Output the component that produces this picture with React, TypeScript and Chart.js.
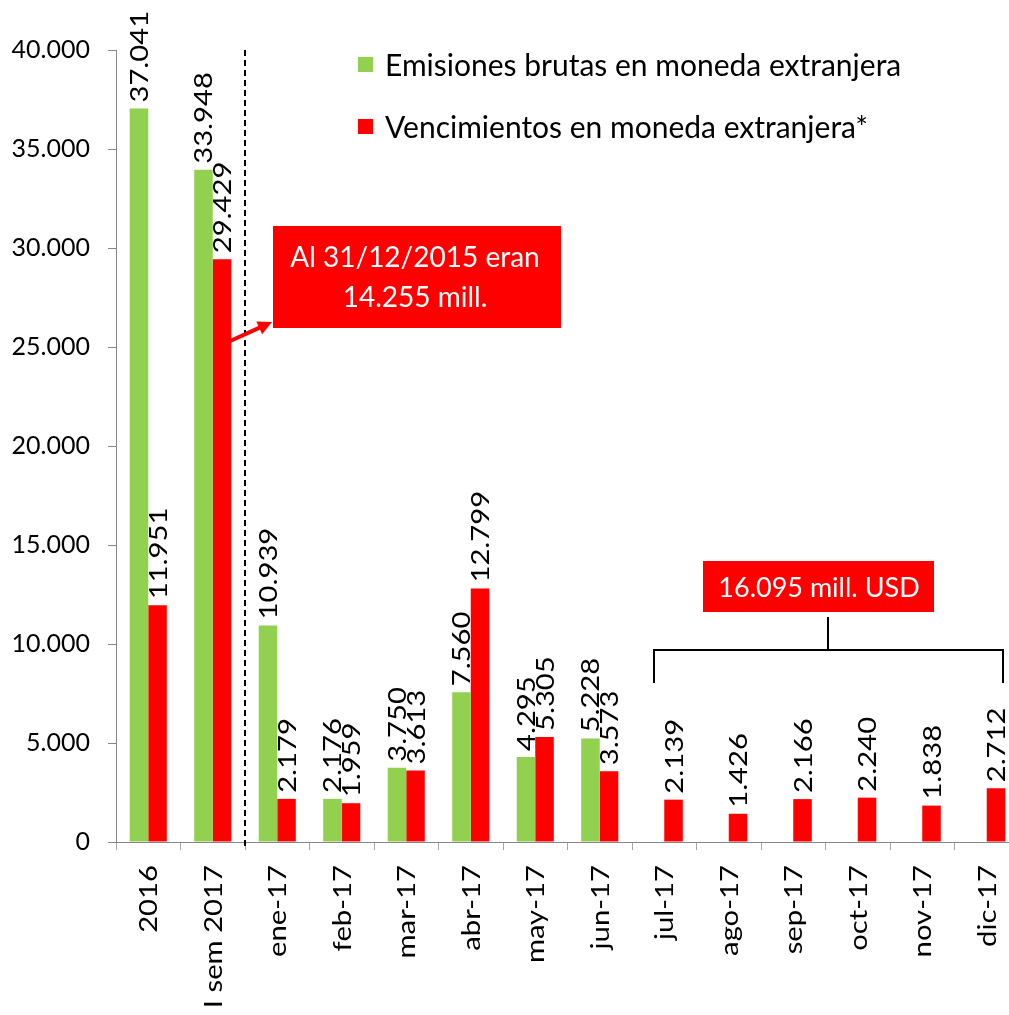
import React, { useEffect, useRef } from "react";
import { Chart, registerables } from "chart.js";

Chart.register(...registerables);

const categories = ["2016", "I sem 2017", "ene-17", "feb-17", "mar-17", "abr-17", "may-17", "jun-17", "jul-17", "ago-17", "sep-17", "oct-17", "nov-17", "dic-17"];
const emisiones: (number | null)[] = [37041, 33948, 10939, 2176, 3750, 7560, 4295, 5228, null, null, null, null, null, null];
const vencimientos: (number | null)[] = [11951, 29429, 2179, 1959, 3613, 12799, 5305, 3573, 2139, 1426, 2166, 2240, 1838, 2712];
const seriesNames = ["Emisiones brutas en moneda extranjera", "Vencimientos en moneda extranjera*"];
const seriesColors = ["#92D050", "#FF0000"];
const yMin = 0;
const yMax = 40000;
const yStep = 5000;
const note1 = ["Al 31/12/2015 eran", "14.255 mill."];
const note2 = "16.095 mill. USD";

const FONT = "Lato, 'Open Sans', sans-serif";
const STRETCH = 1.17;

function fmt(n: number): string {
  return String(n).replace(/\B(?=(\d{3})+(?!\d))/g, ".");
}

function drawRotated(ctx: CanvasRenderingContext2D, text: string, x: number, y: number, size: number, align: CanvasTextAlign) {
  ctx.save();
  ctx.translate(x, y);
  ctx.rotate(-Math.PI / 2);
  ctx.scale(STRETCH, 1);
  ctx.font = `${size}px ${FONT}`;
  ctx.textAlign = align;
  ctx.textBaseline = "alphabetic";
  ctx.fillStyle = "#000";
  ctx.fillText(text, 0, size * 0.36);
  ctx.restore();
}

const overlay = {
  id: "overlay",
  afterDatasetsDraw(chart: any) {
    const ctx: CanvasRenderingContext2D = chart.ctx;
    const xs = chart.scales.x;
    const area = chart.chartArea;

    // data labels
    chart.data.datasets.forEach((ds: any, di: number) => {
      const meta = chart.getDatasetMeta(di);
      meta.data.forEach((bar: any, i: number) => {
        const v = ds.data[i];
        if (v === null || v === undefined) return;
        drawRotated(ctx, fmt(v), bar.x, bar.y - 6, 25, "left");
      });
    });

    // x labels
    categories.forEach((c, i) => {
      const x = xs.getPixelForValue(i);
      drawRotated(ctx, c, x, area.bottom + 23, 25, "right");
    });

    // dashed separator
    const sepX = (xs.getPixelForValue(1) + xs.getPixelForValue(2)) / 2;
    ctx.save();
    ctx.strokeStyle = "#000";
    ctx.lineWidth = 2;
    ctx.setLineDash([6, 4]);
    ctx.beginPath();
    ctx.moveTo(sepX, area.top);
    ctx.lineTo(sepX, area.bottom + 8);
    ctx.stroke();
    ctx.restore();

    // legend
    ctx.save();
    ctx.font = `30px ${FONT}`;
    ctx.textBaseline = "middle";
    ctx.textAlign = "left";
    const legY = [65, 127];
    seriesNames.forEach((n, i) => {
      ctx.fillStyle = seriesColors[i];
      ctx.fillRect(358, legY[i] - 8, 15, 15);
      ctx.fillStyle = "#000";
      ctx.fillText(n, 385, legY[i] + 1);
    });
    ctx.restore();

    // annotation 1
    ctx.save();
    ctx.fillStyle = "#FF0000";
    ctx.fillRect(273, 226, 288, 102);
    ctx.fillStyle = "#fff";
    ctx.font = `28px ${FONT}`;
    ctx.textAlign = "center";
    ctx.textBaseline = "middle";
    ctx.fillText(note1[0], 415, 258);
    ctx.fillText(note1[1], 415, 298);
    // arrow
    const ax0 = 228, ay0 = 342, ax1 = 272, ay1 = 322;
    const ang = Math.atan2(ay1 - ay0, ax1 - ax0);
    ctx.strokeStyle = "#FF0000";
    ctx.lineWidth = 4;
    ctx.beginPath();
    ctx.moveTo(ax0, ay0);
    ctx.lineTo(ax1 - 10 * Math.cos(ang), ay1 - 10 * Math.sin(ang));
    ctx.stroke();
    ctx.beginPath();
    ctx.moveTo(ax1, ay1);
    ctx.lineTo(ax1 - 14 * Math.cos(ang) + 7 * Math.sin(ang), ay1 - 14 * Math.sin(ang) - 7 * Math.cos(ang));
    ctx.lineTo(ax1 - 14 * Math.cos(ang) - 7 * Math.sin(ang), ay1 - 14 * Math.sin(ang) + 7 * Math.cos(ang));
    ctx.closePath();
    ctx.fillStyle = "#FF0000";
    ctx.fill();
    ctx.restore();

    // annotation 2 + bracket
    ctx.save();
    ctx.fillStyle = "#FF0000";
    ctx.fillRect(703, 561, 231, 51);
    ctx.fillStyle = "#fff";
    ctx.font = `27px ${FONT}`;
    ctx.textAlign = "center";
    ctx.textBaseline = "middle";
    ctx.fillText(note2, 819, 588);
    ctx.strokeStyle = "#000";
    ctx.lineWidth = 2;
    ctx.beginPath();
    ctx.moveTo(828, 617);
    ctx.lineTo(828, 650);
    ctx.moveTo(654, 683);
    ctx.lineTo(654, 650);
    ctx.lineTo(1003, 650);
    ctx.lineTo(1003, 683);
    ctx.stroke();
    ctx.restore();
  },
};

export default function App() {
  const ref = useRef<HTMLCanvasElement | null>(null);
  useEffect(() => {
    if (!ref.current) return;
    const chart = new Chart(ref.current, {
      type: "bar",
      data: {
        labels: categories,
        datasets: [
          { label: seriesNames[0], data: emisiones, backgroundColor: seriesColors[0], categoryPercentage: 0.575, barPercentage: 1 },
          { label: seriesNames[1], data: vencimientos, backgroundColor: seriesColors[1], categoryPercentage: 0.575, barPercentage: 1 },
        ],
      },
      options: {
        animation: false,
        responsive: false,
        devicePixelRatio: 1,
        layout: { padding: { top: 50, left: 0, right: 0, bottom: 0 } },
        plugins: { legend: { display: false }, tooltip: { enabled: false } },
        scales: {
          x: {
            offset: true,
            afterFit: (s: any) => { s.height = 173; },
            grid: { display: true, offset: true, drawOnChartArea: false, drawTicks: true, tickLength: 8, color: "#a6a6a6" },
            border: { color: "#868686", width: 1 },
            ticks: { display: false },
          },
          y: {
            min: yMin,
            max: yMax,
            afterFit: (s: any) => { s.width = 116; },
            grid: { display: true, drawOnChartArea: false, drawTicks: true, tickLength: 8, color: "#868686" },
            border: { color: "#868686", width: 1 },
            ticks: {
              stepSize: yStep,
              padding: 18,
              color: "#000",
              font: { family: FONT, size: 25 },
              callback: (v: any) => fmt(Number(v)),
            },
          },
        },
      },
      plugins: [overlay],
    });
    return () => chart.destroy();
  }, []);
  return (
    <div style={{ position: "fixed", left: 0, top: 0, width: 1009, height: 1015, overflow: "hidden", background: "#fff" }}>
      <canvas ref={ref} width={1019} height={1015} style={{ width: 1019, height: 1015, display: "block" }} />
    </div>
  );
}
